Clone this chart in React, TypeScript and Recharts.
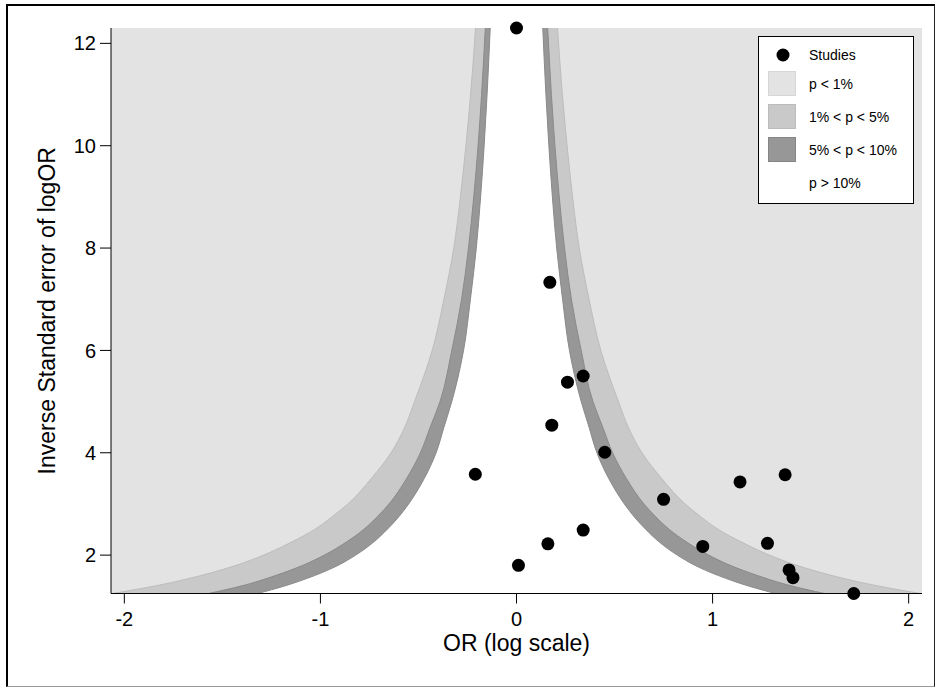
import {
  ComposedChart,
  Area,
  Scatter,
  XAxis,
  YAxis,
  CartesianGrid,
  Label,
} from "recharts";

const FONT = '"Liberation Sans", Arial, Helvetica, sans-serif';

// studies: log OR and inverse standard error
const STUDY_OR = [
  0.0, 0.17, 0.26, 0.34, 0.18, 0.45, -0.21, 0.75, 1.14, 1.37, 0.34, 0.16,
  0.95, 1.28, 0.01, 1.39, 1.41, 1.72,
];
const STUDY_PREC = [
  12.3, 7.33, 5.38, 5.5, 4.54, 4.01, 3.58, 3.09, 3.43, 3.57, 2.49, 2.22, 2.17,
  2.23, 1.8, 1.71, 1.56, 1.25,
];

// contour edges (half-width on the OR axis) read at each precision level
const CONTOUR_PREC = [
  1.25, 1.4, 1.6, 1.8, 2, 2.25, 2.5, 2.75, 3, 3.5, 4, 4.5, 5, 6, 7, 8, 9, 10,
  11, 12.3,
];
const EDGE_P10 = [
  1.32, 1.18, 1.03, 0.91, 0.82, 0.73, 0.66, 0.6, 0.55, 0.47, 0.41, 0.37, 0.33,
  0.27, 0.235, 0.205, 0.183, 0.165, 0.15, 0.134,
];
const EDGE_P05 = [
  1.57, 1.4, 1.23, 1.09, 0.98, 0.87, 0.78, 0.71, 0.65, 0.56, 0.49, 0.44, 0.39,
  0.33, 0.28, 0.245, 0.218, 0.196, 0.178, 0.159,
];
const EDGE_P01 = [
  2.06, 1.84, 1.61, 1.43, 1.29, 1.15, 1.03, 0.94, 0.86, 0.74, 0.64, 0.57, 0.52,
  0.43, 0.37, 0.32, 0.286, 0.258, 0.234, 0.209,
];

const X_TICKS = [-2, -1, 0, 1, 2];
const Y_TICKS = [2, 4, 6, 8, 10, 12];

const COLORS = {
  p01: "#e3e3e3",
  p05: "#c9c9c9",
  p10: "#979797",
  none: "#ffffff",
};

const LEGEND_ITEMS = [
  { label: "p < 1%", fill: COLORS.p01, border: "#d6d6d6" },
  { label: "1% < p < 5%", fill: COLORS.p05, border: "#bcbcbc" },
  { label: "5% < p < 10%", fill: COLORS.p10, border: "#858585" },
  { label: "p > 10%", fill: "none", border: "none" },
];

const contourData = CONTOUR_PREC.map((y, i) => ({
  y,
  p01: [-EDGE_P01[i], EDGE_P01[i]],
  p05: [-EDGE_P05[i], EDGE_P05[i]],
  p10: [-EDGE_P10[i], EDGE_P10[i]],
}));

const studyData = STUDY_OR.map((x, i) => ({ x, y: STUDY_PREC[i] }));

function Dot(props: any) {
  return <circle cx={props.cx} cy={props.cy} r={6.5} fill="#000" />;
}

function FunnelLegend() {
  return (
    <div
      style={{
        position: "absolute",
        left: 758,
        top: 36,
        width: 154,
        height: 166,
        border: "1px solid #000",
        background: "#fff",
        fontFamily: FONT,
        fontSize: 14,
        color: "#000",
      }}
    >
      <svg
        width={14}
        height={14}
        style={{ position: "absolute", left: 17, top: 11 }}
      >
        <circle cx={7} cy={7} r={6.5} fill="#000" />
      </svg>
      <span
        style={{ position: "absolute", left: 50, top: 18, transform: "translateY(-50%)" }}
      >
        Studies
      </span>
      {LEGEND_ITEMS.map((item, i) => {
        const top = 34 + i * 33;
        return (
          <div key={item.label}>
            {item.fill !== "none" && (
              <div
                style={{
                  position: "absolute",
                  left: 9,
                  top,
                  width: 26,
                  height: 23,
                  background: item.fill,
                  border: `1px solid ${item.border}`,
                }}
              />
            )}
            <span
              style={{
                position: "absolute",
                left: 50,
                top: top + 13,
                transform: "translateY(-50%)",
                whiteSpace: "nowrap",
              }}
            >
              {item.label}
            </span>
          </div>
        );
      })}
    </div>
  );
}

export default function App() {
  return (
    <div
      style={{
        position: "absolute",
        left: 0,
        top: 0,
        width: 935,
        height: 687,
        background: "#fff",
        fontFamily: FONT,
      }}
    >
      <ComposedChart
        width={935}
        height={687}
        layout="vertical"
        margin={{ top: 28, right: 13, bottom: 0, left: 0 }}
        style={{ fontFamily: FONT }}
      >
        <CartesianGrid fill={COLORS.p01} horizontal={false} vertical={false} />
        <XAxis
          type="number"
          domain={[-2.068, 2.068]}
          ticks={X_TICKS}
          height={93.5}
          tickSize={10}
          tickMargin={8}
          stroke="#000"
          tick={{ fill: "#000", fontSize: 20 }}
        >
          <Label
            value="OR (log scale)"
            position="insideBottom"
            offset={36}
            fill="#000"
            fontSize={23}
          />
        </XAxis>
        <YAxis
          type="number"
          dataKey="y"
          domain={[1.25, 12.3]}
          ticks={Y_TICKS}
          reversed
          width={111}
          tickSize={11}
          tickMargin={4}
          stroke="#000"
          tick={{ fill: "#000", fontSize: 20 }}
        >
          <Label
            value="Inverse Standard error of logOR"
            angle={-90}
            position="insideLeft"
            offset={47}
            fill="#000"
            fontSize={23}
            style={{ textAnchor: "middle" }}
          />
        </YAxis>
        <Area
          data={contourData}
          dataKey="p01"
          type="monotone"
          fill={COLORS.p05}
          fillOpacity={1}
          stroke="#bdbdbd"
          strokeWidth={1}
          isAnimationActive={false}
        />
        <Area
          data={contourData}
          dataKey="p05"
          type="monotone"
          fill={COLORS.p10}
          fillOpacity={1}
          stroke="#8a8a8a"
          strokeWidth={1}
          isAnimationActive={false}
        />
        <Area
          data={contourData}
          dataKey="p10"
          type="monotone"
          fill={COLORS.none}
          fillOpacity={1}
          stroke="#8a8a8a"
          strokeWidth={1}
          isAnimationActive={false}
        />
        <Scatter
          data={studyData}
          dataKey="x"
          fill="#000"
          shape={Dot}
          isAnimationActive={false}
        />
      </ComposedChart>
      <FunnelLegend />
      <div
        style={{
          position: "absolute",
          left: 6,
          top: 4,
          width: 926,
          height: 680,
          borderLeft: "2px solid #000",
          borderTop: "2px solid #000",
          borderRight: "1px solid #222",
          borderBottom: "1px solid #999",
          pointerEvents: "none",
        }}
      />
    </div>
  );
}
